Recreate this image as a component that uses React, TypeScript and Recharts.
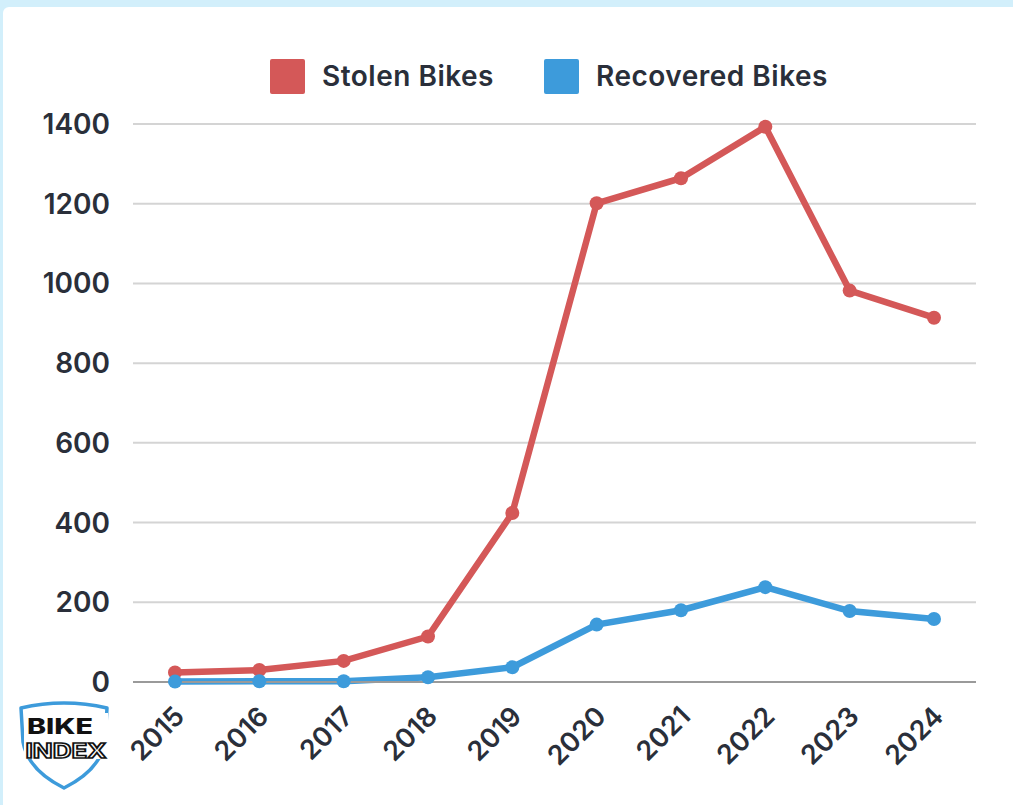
import React from 'react';
import { LineChart, Line, XAxis, YAxis, CartesianGrid } from 'recharts';

const years = ['2015', '2016', '2017', '2018', '2019', '2020', '2021', '2022', '2023', '2024'];
const stolenBikes = [24, 30, 53, 114, 424, 1201, 1264, 1393, 982, 914];
const recoveredBikes = [1, 2, 2, 12, 37, 144, 180, 238, 178, 158];
const yTicks = [0, 200, 400, 600, 800, 1000, 1200, 1400];
const seriesNames = ['Stolen Bikes', 'Recovered Bikes'];

const data = years.map((year, i) => ({ year, stolen: stolenBikes[i], recovered: recoveredBikes[i] }));

const RED = '#d45858';
const BLUE = '#3d9bdb';
const TEXT = '#2a2f3a';
const FONT = 'Inter, "Noto Sans", sans-serif';

const YTick = (props: any) => {
  const { y, payload } = props;
  return (
    <text x={110} y={y} dy={10} textAnchor="end" fill={TEXT} fontFamily={FONT} fontWeight={600} fontSize={28}>
      {payload.value}
    </text>
  );
};

const XTick = (props: any) => {
  const { x, payload } = props;
  const px = x + 11;
  const py = 718;
  return (
    <text x={px} y={py} transform={`rotate(-45, ${px}, ${py})`} textAnchor="end" fill={TEXT} fontFamily={FONT} fontWeight={600} fontSize={27}>
      {payload.value}
    </text>
  );
};

const LegendBlock = () => {
  const colors = [RED, BLUE];
  return (
    <div style={{ position: 'absolute', left: 270, top: 59, display: 'flex', alignItems: 'center', gap: 50 }}>
      {seriesNames.map((label, i) => (
        <div key={label} style={{ display: 'flex', alignItems: 'center' }}>
          <div style={{ width: 35, height: 35, background: colors[i], borderRadius: 2, marginRight: 17 }} />
          <span style={{ fontFamily: FONT, fontWeight: 600, fontSize: 28, letterSpacing: 0.5, color: TEXT, lineHeight: '35px' }}>{label}</span>
        </div>
      ))}
    </div>
  );
};

const Logo = () => (
  <svg width={130} height={110} style={{ position: 'absolute', left: 0, top: 695 }} viewBox="0 695 130 110">
    <path
      d="M21 708 Q64 698 107 708 L105 742 Q100 770 64 788 Q28 770 23 742 Z"
      fill="none"
      stroke={BLUE}
      strokeWidth={3.5}
      strokeLinejoin="round"
    />
    <rect x={24} y={713} width={84} height={46} fill="#ffffff" />
    <text x={60} y={734} textAnchor="middle" fontFamily={FONT} fontWeight={800} fontSize={21} fill="#111" textLength={66} lengthAdjust="spacingAndGlyphs">
      BIKE
    </text>
    <text x={66} y={758} textAnchor="middle" fontFamily={FONT} fontWeight={700} fontSize={20} fill="#ffffff" stroke="#111" strokeWidth={1.5} textLength={81} lengthAdjust="spacingAndGlyphs">
      INDEX
    </text>
  </svg>
);

export default function App() {
  return (
    <div style={{ position: 'fixed', left: 0, top: 0, width: 1013, height: 805, background: '#d2effb', overflow: 'hidden' }}>
      <div style={{ position: 'absolute', left: 3, top: 7, width: 1030, height: 820, background: '#ffffff', borderTopLeftRadius: 6 }} />
      <div style={{ position: 'absolute', left: 0, top: 0 }}>
        <LineChart width={1013} height={805} data={data} margin={{ top: 124, right: 37, bottom: 0, left: 0 }}>
          <CartesianGrid vertical={false} stroke="#d4d4d4" strokeWidth={2} />
          <XAxis
            dataKey="year"
            padding={{ left: 42, right: 42 }}
            axisLine={{ stroke: '#9a9a9a', strokeWidth: 2 }}
            tickLine={false}
            tick={<XTick />}
            interval={0}
            height={123}
          />
          <YAxis
            domain={[0, 1400]}
            ticks={yTicks}
            axisLine={false}
            tickLine={false}
            tick={<YTick />}
            width={133}
            interval={0}
          />
          <Line
            type="linear"
            dataKey="stolen"
            name={seriesNames[0]}
            stroke={RED}
            strokeWidth={6.5}
            dot={{ r: 7, fill: RED, stroke: RED, strokeWidth: 0 }}
            isAnimationActive={false}
          />
          <Line
            type="linear"
            dataKey="recovered"
            name={seriesNames[1]}
            stroke={BLUE}
            strokeWidth={6.5}
            dot={{ r: 7, fill: BLUE, stroke: BLUE, strokeWidth: 0 }}
            isAnimationActive={false}
          />
        </LineChart>
      </div>
      <LegendBlock />
      <Logo />
    </div>
  );
}
